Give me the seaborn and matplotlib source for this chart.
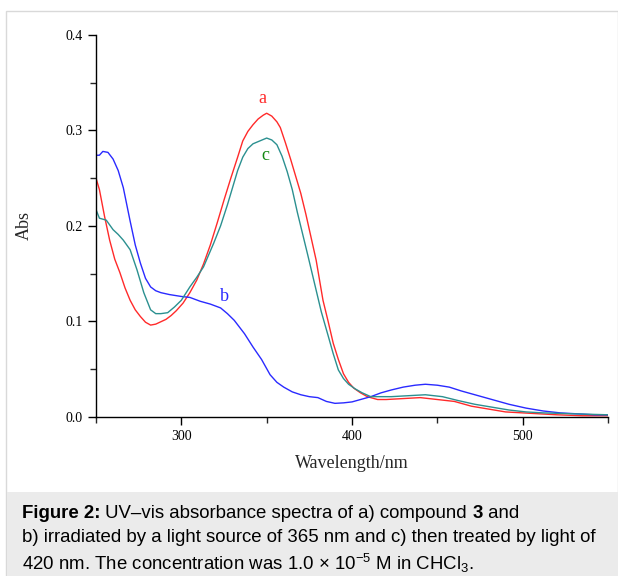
import numpy as np
import pandas as pd
import matplotlib
matplotlib.use("Agg")
import matplotlib.pyplot as plt
import seaborn as sns
from matplotlib.ticker import MultipleLocator, FormatStrFormatter
from matplotlib.patches import Rectangle

# curve a) compound 3
wl_a = [250, 252, 255, 258, 261, 264, 267, 270, 273, 276, 279, 282, 285, 288, 291, 294, 297,
        301, 305, 309, 313, 317, 321, 325, 329, 333, 336, 339, 342, 345, 348, 350, 353, 356,
        358, 361, 364, 367, 370, 373, 376, 379, 383, 386, 389, 392, 395, 398, 401, 405, 409,
        415, 420, 430, 440, 450, 460, 470, 480, 490, 500, 510, 520, 535, 550]
abs_a = [0.250, 0.238, 0.210, 0.185, 0.165, 0.151, 0.135, 0.122, 0.112, 0.105, 0.099, 0.096,
         0.097, 0.0995, 0.102, 0.106, 0.111, 0.119, 0.130, 0.143, 0.160, 0.180, 0.203, 0.227,
         0.250, 0.272, 0.289, 0.299, 0.306, 0.312, 0.316, 0.318, 0.315, 0.309, 0.303, 0.287,
         0.270, 0.252, 0.234, 0.212, 0.188, 0.164, 0.122, 0.100, 0.077, 0.060, 0.045, 0.036,
         0.030, 0.025, 0.021, 0.018, 0.018, 0.019, 0.020, 0.018, 0.016, 0.011, 0.008, 0.005,
         0.004, 0.003, 0.002, 0.001, 0.001]

# curve b) irradiated at 365 nm
wl_b = [250, 252, 254, 257, 260, 263, 266, 270, 273, 276, 279, 282, 285, 288, 293, 300, 305,
        311, 317, 323, 327, 331, 334, 337, 342, 347, 352, 356, 360, 365, 370, 375, 380, 385,
        390, 395, 400, 405, 411, 417, 423, 430, 437, 443, 450, 457, 464, 472, 482, 492, 502,
        512, 522, 532, 542, 550]
abs_b = [0.274, 0.274, 0.278, 0.277, 0.270, 0.258, 0.240, 0.205, 0.180, 0.161, 0.145, 0.136,
         0.132, 0.130, 0.128, 0.126, 0.125, 0.121, 0.118, 0.114, 0.108, 0.101, 0.094, 0.087,
         0.073, 0.060, 0.044, 0.036, 0.031, 0.026, 0.023, 0.021, 0.020, 0.016, 0.014, 0.0145,
         0.0155, 0.018, 0.021, 0.025, 0.028, 0.031, 0.033, 0.034, 0.033, 0.031, 0.027, 0.023,
         0.018, 0.013, 0.009, 0.006, 0.004, 0.003, 0.002, 0.002]

# curve c) then treated by 420 nm light
wl_c = [250, 252, 256, 260, 263, 266, 270, 274, 278, 282, 285, 288, 292, 296, 300, 305, 309,
        313, 319, 323, 327, 330, 333, 336, 339, 342, 346, 350, 353, 356, 359, 362, 365, 368,
        371, 374, 378, 382, 386, 389, 392, 395, 398, 402, 406, 411, 417, 423, 433, 443, 453,
        462, 472, 482, 492, 502, 512, 530, 550]
abs_c = [0.217, 0.208, 0.206, 0.196, 0.191, 0.185, 0.175, 0.154, 0.130, 0.112, 0.108, 0.108,
         0.109, 0.115, 0.122, 0.136, 0.146, 0.157, 0.182, 0.200, 0.222, 0.240, 0.258, 0.272,
         0.281, 0.286, 0.289, 0.292, 0.290, 0.285, 0.273, 0.257, 0.238, 0.214, 0.192, 0.170,
         0.140, 0.110, 0.085, 0.066, 0.049, 0.040, 0.034, 0.029, 0.025, 0.021, 0.021, 0.021,
         0.022, 0.023, 0.021, 0.017, 0.013, 0.010, 0.007, 0.005, 0.004, 0.003, 0.002]

labels = ["a", "b", "c"]
line_colors = {"a": "#ff2a2a", "b": "#2a2aff", "c": "#2b9090"}
label_colors = {"a": "#ff2a2a", "b": "#2a2aff", "c": "#118811"}
label_pos = {"a": (347.5, 0.333), "b": (325.5, 0.126), "c": (349.5, 0.274)}

# caption, as (text, bold) pieces per line
caption_lines = [
    [("Figure 2:", True), (" UV–vis absorbance spectra of a) compound ", False), ("3", True),
     (" and", False)],
    [("b) irradiated by a light source of 365 nm and c) then treated by light of", False)],
    [(r"420 nm. The concentration was 1.0 × 10$^{-5}$ M in CHCl$_3$.", False)],
]


def draw_pieces(fig, renderer, x0, y, pieces, W, **kw):
    x = x0
    for txt, bold in pieces:
        t = fig.text(x / W, y, txt, fontweight="bold" if bold else "normal", **kw)
        x += t.get_window_extent(renderer).width


def main():
    sns.set_style("ticks")
    plt.rcParams["font.family"] = ["Liberation Serif", "DejaVu Serif"]
    plt.rcParams["mathtext.fontset"] = "custom"
    plt.rcParams["mathtext.rm"] = "Liberation Sans"
    plt.rcParams["mathtext.bf"] = "Liberation Sans:bold"
    plt.rcParams["mathtext.it"] = "Liberation Sans:italic"

    df = pd.concat([
        pd.DataFrame({"wl": wl_a, "abs": abs_a, "curve": "a"}),
        pd.DataFrame({"wl": wl_b, "abs": abs_b, "curve": "b"}),
        pd.DataFrame({"wl": wl_c, "abs": abs_c, "curve": "c"}),
    ], ignore_index=True)

    fig = plt.figure(figsize=(6.18, 5.76), dpi=100)
    W, H = 618, 576

    # outer frame and caption band
    fig.patches.append(Rectangle((6 / W, 0), 611.5 / W, 565 / H, transform=fig.transFigure,
                                 facecolor="white", edgecolor="#d9d9d9", lw=1, zorder=-2))
    fig.patches.append(Rectangle((7 / W, 0), 611 / W, (576 - 492) / H, transform=fig.transFigure,
                                 facecolor="#ebebeb", edgecolor="none", zorder=-1))

    ax = fig.add_axes([96 / W, (576 - 416.7) / H, (608 - 96) / W, (416.7 - 35) / H])
    ax.set_facecolor("none")
    sns.lineplot(data=df, x="wl", y="abs", hue="curve", palette=line_colors, sort=False,
                 estimator=None, lw=1.0, legend=False, ax=ax)

    for lab in labels:
        x, y = label_pos[lab]
        ax.text(x, y, lab, color=label_colors[lab], fontsize=13, ha="center", va="center")

    ax.set_xlim(250, 550)
    ax.set_ylim(0, 0.4)
    ax.set_xticks([300, 400, 500])
    ax.xaxis.set_minor_locator(MultipleLocator(50))
    ax.yaxis.set_major_locator(MultipleLocator(0.1))
    ax.yaxis.set_minor_locator(MultipleLocator(0.05))
    ax.yaxis.set_major_formatter(FormatStrFormatter("%.1f"))
    ax.tick_params(which="major", direction="out", length=6, width=1, labelsize=10, colors="black")
    ax.tick_params(which="minor", direction="out", length=4, width=1)
    for s in ["top", "right"]:
        ax.spines[s].set_visible(False)
    for s in ["left", "bottom"]:
        ax.spines[s].set_color("black")
        ax.spines[s].set_linewidth(1)
    ax.set_xlabel("Wavelength/nm", fontsize=13, labelpad=9)
    ax.set_ylabel("Abs", fontsize=13)
    ax.yaxis.set_label_coords((33 - 96) / 512, 0.5)

    renderer = fig.canvas.get_renderer()
    for i, pieces in enumerate(caption_lines):
        draw_pieces(fig, renderer, 22, 1 - (513 + 25 * i) / H, pieces, W,
                    fontsize=13.4, va="center", ha="left",
                    family=["Liberation Sans", "DejaVu Sans"], color="black")

    fig.savefig("out.png", dpi=100)
    plt.close(fig)


if __name__ == "__main__":
    main()
